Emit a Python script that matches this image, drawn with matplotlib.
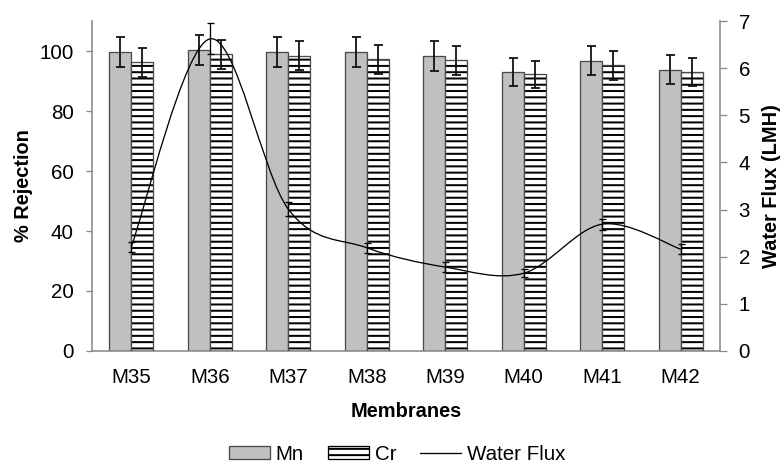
import matplotlib
matplotlib.use("Agg")
import matplotlib.pyplot as plt
import numpy as np
from matplotlib.path import Path
from matplotlib.patches import PathPatch, Patch
from matplotlib.lines import Line2D

membranes = ["M35", "M36", "M37", "M38", "M39", "M40", "M41", "M42"]
mn_rejection = [99.7, 100.2, 99.7, 99.7, 98.5, 93.0, 96.8, 93.8]
mn_error = [4.9, 5.0, 5.0, 5.0, 5.0, 4.7, 4.9, 4.9]
cr_rejection = [96.3, 98.9, 98.5, 97.2, 96.9, 92.2, 95.2, 93.0]
cr_error = [4.8, 4.8, 4.8, 4.8, 4.8, 4.6, 4.7, 4.7]
water_flux = [2.21, 6.62, 3.01, 2.19, 1.78, 1.65, 2.69, 2.16]
flux_error = [0.11, 0.33, 0.15, 0.11, 0.10, 0.09, 0.12, 0.11]

# dpi picked so the "---" hatch spacing matches the original (~6 px)
DPI = 113
W_PX, H_PX = 780, 464


def px(v):
    # pixel size -> points at this dpi
    return v * 72.0 / DPI


plt.rcParams["font.family"] = ["Liberation Sans", "DejaVu Sans"]
plt.rcParams["hatch.linewidth"] = px(2.0)

SPINE = "#898989"
EDGE = "#4a4a4a"
FS = px(20.5)


def smooth_path(xs, ys):
    # Excel-style smoothed line: cubic Bezier segments through the points
    pts = np.column_stack([xs, ys]).astype(float)
    n = len(pts)
    verts = [pts[0]]
    codes = [Path.MOVETO]
    for i in range(n - 1):
        p0 = pts[i - 1] if i > 0 else pts[i]
        p1 = pts[i]
        p2 = pts[i + 1]
        p3 = pts[i + 2] if i + 2 < n else pts[i + 1]
        verts += [p1 + (p2 - p0) / 6.0, p2 - (p3 - p1) / 6.0, p2]
        codes += [Path.CURVE4] * 3
    return Path(verts, codes)


fig = plt.figure(figsize=(W_PX / DPI, H_PX / DPI), dpi=DPI)
ax = fig.add_axes([92 / W_PX, 1 - 351 / H_PX, (720 - 92) / W_PX, (351 - 21) / H_PX])
x = np.arange(len(membranes))
w = 0.28

ax.bar(x - w / 2, mn_rejection, w, color="#c0c0c0", edgecolor=EDGE, linewidth=px(1.3), zorder=2)
ax.bar(x + w / 2, cr_rejection, w, color="white", edgecolor="black", linewidth=0, hatch="---", zorder=2)
ax.bar(x + w / 2, cr_rejection, w, color="none", edgecolor=EDGE, linewidth=px(1.3), zorder=3)
err_kw = dict(fmt="none", ecolor="#111111", elinewidth=px(1.8), capsize=px(4.5), capthick=px(1.8), zorder=4)
ax.errorbar(x - w / 2, mn_rejection, yerr=mn_error, **err_kw)
ax.errorbar(x + w / 2, cr_rejection, yerr=cr_error, **err_kw)

ax.set_xlim(-0.5, len(membranes) - 0.5)
ax.set_ylim(0, 110)
ax.set_yticks(np.arange(0, 101, 20))
ax.set_xticks(x)
ax.set_xticklabels(membranes)
ax.tick_params(axis="x", length=0, pad=px(17), labelsize=FS, colors="black")
ax.tick_params(axis="y", length=px(6.5), width=px(1.3), color=SPINE, labelsize=FS, pad=px(12))
for side in ("top", "right"):
    ax.spines[side].set_visible(False)
for side in ("left", "bottom"):
    ax.spines[side].set_color(SPINE)
    ax.spines[side].set_linewidth(px(1.6))
ax.set_ylabel("% Rejection", fontsize=px(20), fontweight="bold", labelpad=px(6))
ax.set_xlabel("Membranes", fontsize=px(20), fontweight="bold", labelpad=px(15))

ax2 = ax.twinx()
ax2.set_ylim(0, 7)
ax2.set_yticks(np.arange(0, 8, 1))
ax2.add_patch(PathPatch(smooth_path(x, water_flux), facecolor="none", edgecolor="black",
                        linewidth=px(1.3), zorder=5))
ax2.errorbar(x, water_flux, yerr=flux_error, fmt="none", ecolor="black", elinewidth=px(1.3),
             capsize=px(3.5), capthick=px(1.3), zorder=6)
for side in ("top", "left", "bottom"):
    ax2.spines[side].set_visible(False)
ax2.spines["right"].set_color(SPINE)
ax2.spines["right"].set_linewidth(px(1.6))
ax2.tick_params(axis="y", length=px(6.5), width=px(1.3), color=SPINE, labelsize=FS, pad=px(12))
ax2.set_ylabel("Water Flux (LMH)", fontsize=px(20), fontweight="bold", rotation=90, labelpad=px(12))

handles = [
    Patch(facecolor="#c0c0c0", edgecolor=EDGE, linewidth=px(1.3), label="Mn"),
    Patch(facecolor="white", edgecolor="black", linewidth=px(1.3), hatch="---", label="Cr"),
    Line2D([], [], color="black", linewidth=px(1.3), label="Water Flux"),
]
fig.legend(handles=handles, loc="lower center", bbox_to_anchor=(397 / W_PX, -0.004), ncol=3, frameon=False,
           fontsize=px(20.5), handlelength=2.0, handleheight=0.55, handletextpad=0.3,
           columnspacing=1.15, borderpad=0.1, borderaxespad=0.0)

fig.savefig("out.png", dpi=DPI)
